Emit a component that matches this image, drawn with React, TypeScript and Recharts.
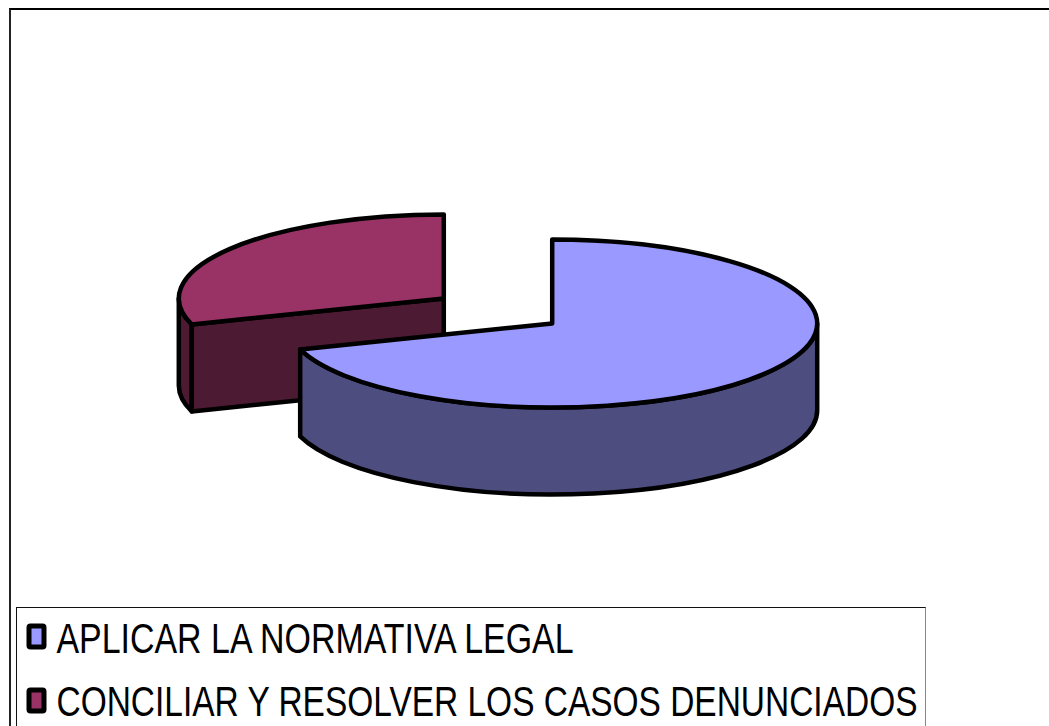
import { Legend, Pie, PieChart } from 'recharts'

const categories = ['APLICAR LA NORMATIVA LEGAL', 'CONCILIAR Y RESOLVER LOS CASOS DENUNCIADOS']
const values = [70, 30]
const topColors = ['#9999FF', '#993366']
const wallColors = ['#4D4D80', '#4D1A33']
const legendTextWidths = [517, 861]

// red goes first so the blue slice paints over it
const paintOrder = [1, 0]
const pieData = paintOrder.map((i) => ({
  name: categories[i],
  value: values[i],
  fill: topColors[i],
  wall: wallColors[i],
}))

const SQUASH = 84 / 265
const DEPTH = 87
const EXPLODE = 67
const RAD = Math.PI / 180

function Slice3D(props: any) {
  const { cx, cy, outerRadius, startAngle, endAngle, fill, payload } = props
  const wall = payload?.wall ?? props.wall
  const rx = outerRadius
  const ry = outerRadius * SQUASH
  const mid = ((startAngle + endAngle) / 2) * RAD
  const ox = cx + EXPLODE * Math.cos(mid)
  const oy = cy - EXPLODE * Math.sin(mid) * SQUASH
  const pt = (a: number, dy = 0) => ({
    x: ox + rx * Math.cos(a * RAD),
    y: oy - ry * Math.sin(a * RAD) + dy,
  })
  const at = (p: { x: number; y: number }) => `${p.x} ${p.y}`
  const arcTo = (a: number, large: boolean, clockwise: boolean, dy = 0) =>
    `A ${rx} ${ry} 0 ${large ? 1 : 0} ${clockwise ? 1 : 0} ${at(pt(a, dy))}`

  const walls: string[] = []
  // outer wall: only the part of the rim on the front half of the ellipse
  for (const k of [-1, 0]) {
    const hi = Math.min(startAngle, 360 + 360 * k)
    const lo = Math.max(endAngle, 180 + 360 * k)
    if (hi > lo) {
      walls.push(
        `M ${at(pt(hi))} ${arcTo(lo, false, true)} L ${at(pt(lo, DEPTH))} ${arcTo(hi, false, false, DEPTH)} Z`,
      )
    }
  }
  // cut faces that look towards the viewer
  const face = (a: number) =>
    `M ${ox} ${oy} L ${at(pt(a))} L ${at(pt(a, DEPTH))} L ${ox} ${oy + DEPTH} Z`
  if (Math.cos(startAngle * RAD) < -0.001) walls.push(face(startAngle))
  if (Math.cos(endAngle * RAD) > 0.001) walls.push(face(endAngle))

  const top = `M ${ox} ${oy} L ${at(pt(startAngle))} ${arcTo(endAngle, startAngle - endAngle > 180, true)} Z`
  return (
    <g stroke="#000" strokeWidth={4.5} strokeLinejoin="round">
      {walls.map((d) => (
        <path key={d} d={d} fill={wall} />
      ))}
      <path d={top} fill={fill} />
    </g>
  )
}

function ChartLegend() {
  return (
    <div
      style={{
        boxSizing: 'border-box',
        width: 910,
        height: 119,
        background: '#fff',
        borderTop: '1.5px solid #111',
        borderLeft: '1.5px solid #111',
        borderRight: '1.5px solid #888',
      }}
    >
      <svg width={906} height={117} style={{ display: 'block' }}>
        {categories.map((name, i) => (
          <g key={name}>
            <rect
              x={12}
              y={18 + i * 64}
              width={15}
              height={21}
              rx={1.5}
              fill={topColors[i]}
              stroke="#000"
              strokeWidth={5}
            />
            <text
              x={39.5}
              y={44.5 + i * 63}
              fontFamily="'Liberation Sans', Arial, sans-serif"
              fontSize={42}
              fill="#000"
              textLength={legendTextWidths[i]}
              lengthAdjust="spacingAndGlyphs"
            >
              {name}
            </text>
          </g>
        ))}
      </svg>
    </div>
  )
}

export default function App() {
  return (
    <div
      style={{
        position: 'absolute',
        left: 0,
        top: 0,
        width: 1049,
        height: 726,
        overflow: 'hidden',
        background: '#fff',
      }}
    >
      <div
        style={{
          position: 'absolute',
          left: 9,
          top: 8,
          width: 1060,
          height: 740,
          borderTop: '2px solid #000',
          borderLeft: '2px solid #222',
        }}
      />
      <PieChart
        width={1049}
        height={726}
        margin={{ top: 0, right: 0, bottom: 0, left: 0 }}
        style={{ position: 'absolute', left: 0, top: 0 }}
      >
        <Pie
          data={pieData}
          dataKey="value"
          nameKey="name"
          cx={498}
          cy={311}
          outerRadius={265}
          startAngle={198}
          endAngle={-162}
          paddingAngle={0}
          stroke="none"
          isAnimationActive={false}
          shape={Slice3D}
        />
        <Legend
          content={<ChartLegend />}
          wrapperStyle={{ position: 'absolute', left: 16, top: 607, width: 910, bottom: 'auto' }}
        />
      </PieChart>
    </div>
  )
}
